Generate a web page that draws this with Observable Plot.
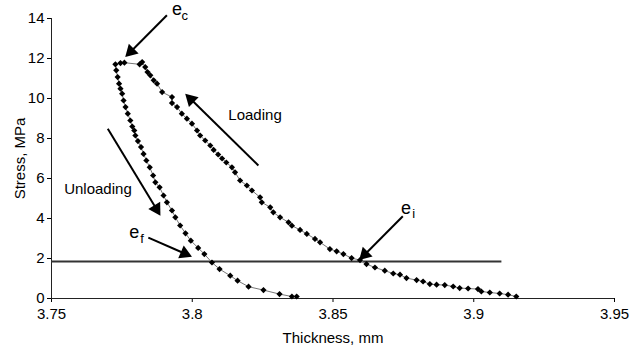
<!DOCTYPE html>
<html><head><meta charset="utf-8">
<script src="https://cdn.jsdelivr.net/npm/d3@7"></script>
<script src="https://cdn.jsdelivr.net/npm/@observablehq/plot@0.6"></script>
<style>body{margin:0;background:#fff}</style>
</head><body><div id="chart"></div>
<script>
// Loading curve (bottom -> top)
const loadX = [3.9151,3.9122,3.9092,3.9057,3.9027,3.9015,3.8980,3.8950,3.8927,3.8897,3.8868,3.8844,3.8820,3.8797,3.8761,3.8738,3.8714,3.8684,3.8649,3.8619,3.8596,3.8566,3.8537,3.8513,3.8489,3.8454,3.8436,3.8407,3.8383,3.8354,3.8342,3.8312,3.8288,3.8277,3.8247,3.8241,3.8212,3.8194,3.8170,3.8152,3.8141,3.8121,3.8106,3.8092,3.8076,3.8064,3.8046,3.8028,3.8017,3.7999,3.7981,3.7963,3.7946,3.7928,3.7928,3.7893,3.7875,3.7863,3.7851,3.7841,3.7833,3.7822,3.7813];
const loadY = [0.10,0.19,0.25,0.30,0.35,0.47,0.50,0.52,0.60,0.67,0.69,0.72,0.85,0.92,1.02,1.19,1.25,1.39,1.55,1.72,1.92,2.02,2.22,2.36,2.47,2.81,2.98,3.23,3.43,3.64,3.81,4.06,4.31,4.56,4.81,5.06,5.40,5.65,5.90,6.31,6.56,6.80,7.00,7.20,7.43,7.65,7.90,8.15,8.40,8.74,8.99,9.24,9.57,9.77,10.07,10.32,10.74,10.91,11.16,11.32,11.57,11.82,11.71];
// Unloading curve (top -> bottom)
const unloadX = [3.7759,3.7745,3.7727,3.7730,3.7735,3.7740,3.7745,3.7751,3.7756,3.7763,3.7771,3.7780,3.7787,3.7794,3.7798,3.7807,3.7818,3.7827,3.7837,3.7849,3.7861,3.7869,3.7884,3.7898,3.7910,3.7928,3.7940,3.7957,3.7976,3.7995,3.8021,3.8043,3.8070,3.8097,3.8135,3.8161,3.8200,3.8253,3.8310,3.8354,3.8371];
const unloadY = [11.79,11.77,11.71,11.41,11.07,10.74,10.49,10.24,9.90,9.57,9.24,8.90,8.60,8.40,8.15,7.87,7.57,7.23,6.90,6.56,6.15,5.81,5.56,5.15,4.81,4.40,4.06,3.65,3.26,2.89,2.53,2.22,1.80,1.47,1.14,0.89,0.59,0.42,0.22,0.10,0.10];
// Reference line
const refStress = 1.85;
const refXEnd = 3.91;
// Axis ticks
const xTicks = [3.75,3.8,3.85,3.9,3.95];
const yTicks = [0,2,4,6,8,10,12,14];
// Annotations
const arrowTailX = [3.7910,3.8235,3.7700,3.7844,3.8748];
const arrowTailY = [14.16,6.65,8.49,3.04,4.11];
const arrowTipX  = [3.7762,3.7975,3.7887,3.7999,3.8593];
const arrowTipY  = [12.07,10.24,4.14,2.09,1.92];
const labelText = ["Loading","Unloading"];
const labelX = [3.8223,3.7665];
const labelY = [9.15,5.48];
const eX = [3.7946,3.7794,3.8759];
const eY = [14.45,3.31,4.49];
const subText = ["c","f","i"];
const subX = [3.7973,3.7822,3.8787];
const subY = [14.12,2.99,4.22];

const W = 638, H = 350, mL = 51, mR = 24, mT = 18, mB = 52;
const xDom = [3.75,3.95], yDom = [0,14];
const sx = d3.scaleLinear(xDom,[mL,W-mR]);
const sy = d3.scaleLinear(yDom,[H-mB,mT]);

const path = [
  ...loadX.map((x,i)=>({x,y:loadY[i]})),
  ...unloadX.map((x,i)=>({x,y:unloadY[i]}))
];

const headBack = 4; // distance (px) from centroid to tip
const arrows = arrowTailX.map((tx,i)=>{
  const x1=sx(tx), y1=sy(arrowTailY[i]), x2=sx(arrowTipX[i]), y2=sy(arrowTipY[i]);
  const dx=x2-x1, dy=y2-y1, L=Math.hypot(dx,dy);
  const ux=dx/L, uy=dy/L;
  const cx=x2-ux*headBack*2, cy=y2-uy*headBack*2;
  return {x1:tx,y1:arrowTailY[i],cx:sx.invert(cx),cy:sy.invert(cy),
    rot:Math.atan2(ux,-uy)*180/Math.PI};
});
const labels = labelText.map((t,i)=>({t,x:labelX[i],y:labelY[i]}));
const es = eX.map((x,i)=>({x,y:eY[i]}));
const subs = subText.map((t,i)=>({t,x:subX[i],y:subY[i]}));

const font = "'Liberation Sans', Arial, sans-serif";
const chart = Plot.plot({
  width: W, height: H,
  marginLeft: mL, marginRight: mR, marginTop: mT, marginBottom: mB,
  style: {fontFamily: font, fontSize: "15px", color: "#000", background: "#fff"},
  x: {domain: xDom, ticks: xTicks, tickSize: 4, tickPadding: 6, tickFormat: d=>String(d),
      label: "Thickness, mm", labelAnchor: "center", labelOffset: 44, labelArrow: "none"},
  y: {domain: yDom, ticks: yTicks, tickSize: 4, tickPadding: 3,
      label: "Stress, MPa", labelAnchor: "center", labelOffset: 37, labelArrow: "none"},
  marks: [
    Plot.ruleX([xDom[0]], {y1: yDom[0], y2: yDom[1], stroke: "#222"}),
    Plot.ruleY([yDom[0]], {stroke: "#222"}),
    Plot.ruleY([refStress], {x1: xDom[0], x2: refXEnd, stroke: "#333", strokeWidth: 2}),
    Plot.line(path, {x: "x", y: "y", stroke: "#777", strokeWidth: 1}),
    Plot.dot(path, {x: "x", y: "y", symbol: "diamond2", r: 2.8, fill: "#000", stroke: "none"}),
    Plot.link(arrows, {x1: "x1", y1: "y1", x2: "cx", y2: "cy", stroke: "#000", strokeWidth: 2}),
    Plot.dot(arrows, {x: "cx", y: "cy", symbol: "triangle", r: Math.sqrt(headBack*headBack*3*Math.sqrt(3)/Math.PI), rotate: "rot", fill: "#000", stroke: "none"}),
    Plot.text(labels, {x: "x", y: "y", text: "t", fontSize: 15, fill: "#000"}),
    Plot.text(es, {x: "x", y: "y", text: () => "e", fontSize: 18, fill: "#000"}),
    Plot.text(subs, {x: "x", y: "y", text: "t", fontSize: 13, fill: "#000"})
  ]
});
document.getElementById("chart").appendChild(chart);
</script>
</body></html>
